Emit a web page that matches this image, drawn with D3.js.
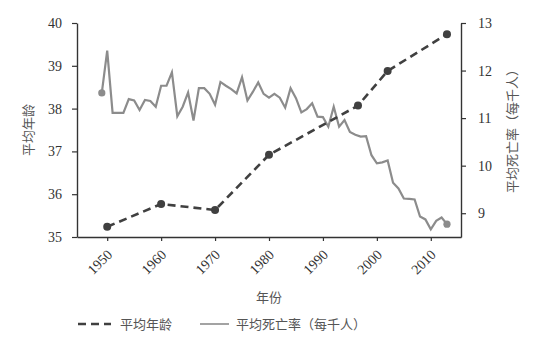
<!DOCTYPE html>
<html>
<head>
<meta charset="utf-8">
<script src="https://cdn.jsdelivr.net/npm/d3@7"></script>
<style>
  html, body { margin: 0; padding: 0; background: #fff; }
  svg { display: block; }
</style>
</head>
<body>
<svg id="chart" width="537" height="348"></svg>
<script>
// Median age, sampled years
const ageYears = [1950, 1960, 1970, 1980, 1996.5, 2002, 2013];
const ageValues = [35.24, 35.77, 35.63, 36.92, 38.07, 38.88, 39.74];

// Crude death rate (per thousand), yearly 1949-2013
const deathYears = d3.range(1949, 2014);
const deathValues = [
  11.53, 12.42, 11.11, 11.11, 11.11, 11.40, 11.37, 11.17, 11.38, 11.36,
  11.24, 11.68, 11.68, 11.96, 11.04, 11.24, 11.54, 10.95, 11.63, 11.63,
  11.51, 11.28, 11.76, 11.68, 11.61, 11.52, 11.86, 11.37, 11.55, 11.75,
  11.51, 11.43, 11.51, 11.43, 11.22, 11.63, 11.42, 11.12, 11.19, 11.31,
  11.03, 11.02, 10.82, 11.24, 10.82, 10.96, 10.71, 10.65, 10.61, 10.62,
  10.22, 10.05, 10.07, 10.11, 9.64, 9.52, 9.31, 9.30, 9.29, 8.93,
  8.87, 8.66, 8.84, 8.91, 8.77
];

const xTicks = [1950, 1960, 1970, 1980, 1990, 2000, 2010];
const ageTicks = [35, 36, 37, 38, 39, 40];
const deathTicks = [9, 10, 11, 12, 13];

const labels = {
  x: "年份",
  age: "平均年龄",
  death: "平均死亡率（每千人）"
};

const W = 537, H = 348;
const margin = { top: 23, right: 76, bottom: 111, left: 77 };
const svg = d3.select("#chart");

const numFont = "'Liberation Serif', 'Times New Roman', serif";
const cjkFont = "'Noto Sans CJK SC', 'Noto Sans', sans-serif";

const x = d3.scaleLinear().domain([1944.4, 2015.6]).range([margin.left, W - margin.right]);
const yAge = d3.scaleLinear().domain([35, 40]).range([H - margin.bottom, margin.top]);
const yDeath = d3.scaleLinear().domain([8.5, 13]).range([H - margin.bottom, margin.top]);

const axisColor = "#333";
const ageColor = "#404040";
const deathColor = "#8c8c8c";

function styleAxis(g) {
  g.attr("font-family", numFont).attr("font-size", 14);
  g.select(".domain").attr("stroke", axisColor).attr("stroke-width", 1.4);
  g.selectAll(".tick line").attr("stroke", axisColor).attr("stroke-width", 1.2);
  g.selectAll(".tick text")
    .attr("fill", "#333")
    .style("font-family", numFont)
    .style("font-size", "14px");
}

function cjkText(sel) {
  return sel.style("font-family", cjkFont).style("font-size", "13px").attr("fill", "#555");
}

// Bottom axis
const gx = svg.append("g")
  .attr("transform", `translate(0,${H - margin.bottom})`)
  .call(d3.axisBottom(x).tickValues(xTicks).tickFormat(d3.format("d")).tickSize(4).tickSizeOuter(0));
styleAxis(gx);
gx.selectAll(".tick text")
  .attr("x", 0).attr("y", 0).attr("dy", "0.35em")
  .attr("transform", "translate(2,15) rotate(-45)")
  .style("text-anchor", "end");

// Left axis
const gl = svg.append("g")
  .attr("transform", `translate(${margin.left},0)`)
  .call(d3.axisLeft(yAge).tickValues(ageTicks).tickFormat(d3.format("d")).tickSize(5).tickPadding(10).tickSizeOuter(0));
styleAxis(gl);

// Right axis
const gr = svg.append("g")
  .attr("transform", `translate(${W - margin.right},0)`)
  .call(d3.axisRight(yDeath).tickValues(deathTicks).tickFormat(d3.format("d")).tickSize(5).tickPadding(12).tickSizeOuter(0));
styleAxis(gr);

// Death rate line
const deathData = deathYears.map((yr, i) => ({ yr, v: deathValues[i] }));
svg.append("path")
  .datum(deathData)
  .attr("fill", "none")
  .attr("stroke", deathColor)
  .attr("stroke-width", 2.2)
  .attr("stroke-linejoin", "miter")
  .attr("d", d3.line().x(d => x(d.yr)).y(d => yDeath(d.v)));

svg.selectAll("circle.death")
  .data([deathData[0], deathData[deathData.length - 1]])
  .join("circle")
  .attr("class", "death")
  .attr("cx", d => x(d.yr))
  .attr("cy", d => yDeath(d.v))
  .attr("r", 3.6)
  .attr("fill", deathColor);

// Median age line
const ageData = ageYears.map((yr, i) => ({ yr, v: ageValues[i] }));
svg.append("path")
  .datum(ageData)
  .attr("fill", "none")
  .attr("stroke", ageColor)
  .attr("stroke-width", 2.6)
  .attr("stroke-dasharray", "8,5")
  .attr("d", d3.line().x(d => x(d.yr)).y(d => yAge(d.v)));

svg.selectAll("circle.age")
  .data(ageData)
  .join("circle")
  .attr("class", "age")
  .attr("cx", d => x(d.yr))
  .attr("cy", d => yAge(d.v))
  .attr("r", 4)
  .attr("fill", ageColor);

// Axis titles
const midY = (margin.top + H - margin.bottom) / 2;
svg.append("text")
  .attr("transform", `translate(28,${midY}) rotate(-90)`)
  .attr("text-anchor", "middle").attr("dy", "0.35em")
  .call(cjkText)
  .text(labels.age);

svg.append("text")
  .attr("transform", `translate(512,${midY - 2}) rotate(-90)`)
  .attr("text-anchor", "middle").attr("dy", "0.35em")
  .call(cjkText)
  .text(labels.death);

svg.append("text")
  .attr("x", (margin.left + W - margin.right) / 2)
  .attr("y", 297).attr("dy", "0.35em")
  .attr("text-anchor", "middle")
  .call(cjkText)
  .text(labels.x);

// Legend
const legY = 324;
const leg = svg.append("g");
leg.append("line")
  .attr("x1", 78).attr("x2", 111).attr("y1", legY).attr("y2", legY)
  .attr("stroke", ageColor).attr("stroke-width", 2.6).attr("stroke-dasharray", "8,5");
leg.append("text")
  .attr("x", 120).attr("y", legY).attr("dy", "0.35em")
  .call(cjkText)
  .text(labels.age);
leg.append("line")
  .attr("x1", 200).attr("x2", 229).attr("y1", legY).attr("y2", legY)
  .attr("stroke", deathColor).attr("stroke-width", 1.6);
leg.append("text")
  .attr("x", 236).attr("y", legY).attr("dy", "0.35em")
  .call(cjkText)
  .text(labels.death);
</script>
</body>
</html>
